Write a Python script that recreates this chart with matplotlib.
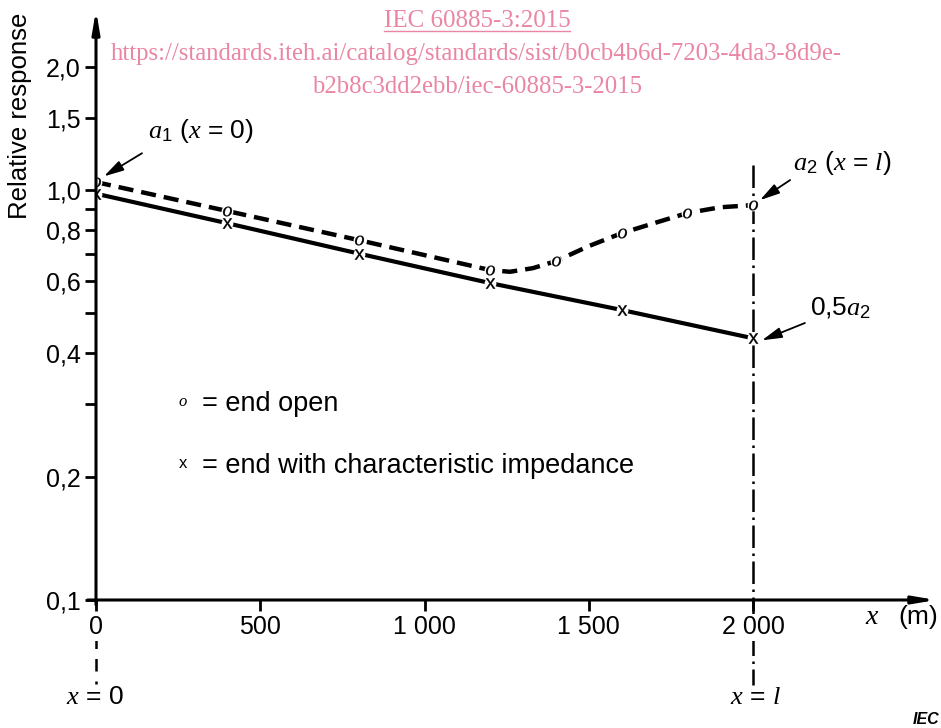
import numpy as np
import matplotlib
matplotlib.use('Agg')
import matplotlib.pyplot as plt
from matplotlib.ticker import FixedLocator, FixedFormatter, NullFormatter

plt.rcParams['font.family'] = ['Liberation Sans', 'DejaVu Sans']
plt.rcParams['mathtext.fontset'] = 'custom'
plt.rcParams['mathtext.it'] = 'Liberation Serif:italic'
plt.rcParams['mathtext.rm'] = 'Liberation Sans'
plt.rcParams['mathtext.sf'] = 'Liberation Sans'

# distance along the cable (m) and response, end with characteristic impedance
dist = [0, 400, 800, 1200, 1600, 2000]
resp_matched = [0.98, 0.83, 0.70, 0.593, 0.51, 0.435]

# end open: marked points
dist_open = [0, 400, 800, 1200, 1400, 1600, 1800, 2000]
resp_open = [1.046, 0.889, 0.755, 0.638, 0.671, 0.785, 0.879, 0.919]

# end open: dashed curve
curve_dist = [0, 400, 800, 1200, 1260, 1330, 1400, 1500, 1600, 1700, 1800, 1900, 2000]
curve_resp = [1.046, 0.889, 0.755, 0.638, 0.632, 0.645, 0.671, 0.730, 0.785, 0.831, 0.879, 0.908, 0.919]

ytick_vals = [0.1, 0.2, 0.4, 0.6, 0.8, 1.0, 1.5, 2.0]
ytick_labels = ['0,1', '0,2', '0,4', '0,6', '0,8', '1,0', '1,5', '2,0']
yminor_vals = [0.3, 0.5, 0.7, 0.9]
xtick_vals = [0, 500, 1000, 1500, 2000]
xtick_labels = ['0', '500', '1 000', '1 500', '2 000']

W, H = 941, 728
fig = plt.figure(figsize=(W / 100, H / 100), dpi=100)
ax = fig.add_axes([96 / W, 128 / H, 840 / W, 590 / H])
ax.set_yscale('log')
ax.set_xlim(0, 2557)
ax.set_ylim(0.1, 2.75)
for s in ax.spines.values():
    s.set_visible(False)


def px(x, y):
    # pixel position (top-left origin) -> figure fraction
    return x / W, 1 - y / H


# axes drawn as arrows
arr = dict(arrowstyle='-|>,head_length=1.3,head_width=0.22', lw=2.2, color='k',
           shrinkA=0, shrinkB=0)
ax.annotate('', xy=(1.0, 0), xytext=(-0.01, 0), xycoords='axes fraction',
            arrowprops=arr, annotation_clip=False, zorder=3)
ax.annotate('', xy=(0, 1.0), xytext=(0, -0.008), xycoords='axes fraction',
            arrowprops=arr, annotation_clip=False, zorder=3)

ax.yaxis.set_major_locator(FixedLocator(ytick_vals))
ax.yaxis.set_major_formatter(FixedFormatter(ytick_labels))
ax.yaxis.set_minor_locator(FixedLocator(yminor_vals))
ax.yaxis.set_minor_formatter(NullFormatter())
ax.xaxis.set_major_locator(FixedLocator(xtick_vals))
ax.xaxis.set_major_formatter(FixedFormatter(xtick_labels))
ax.tick_params(which='both', direction='out', length=8, width=2, labelsize=18)
ax.tick_params(axis='y', pad=3)
ax.tick_params(axis='x', pad=3)
for lab in ax.get_xticklabels():
    lab.set_bbox(dict(fc='white', ec='none', pad=1))

# reference lines at x = 0 and x = l
ax.plot([2000, 2000], [1.15, 0.062], color='k', lw=1.8, clip_on=False, zorder=1.5,
        dashes=(9, 2.2, 1, 2.2))
ax.plot([0, 0], [0.0817, 0.0624], color='k', lw=1.8, clip_on=False, zorder=1.5,
        dashes=(5, 4))

# curves
ax.plot(dist, resp_matched, color='k', lw=3, solid_capstyle='butt', zorder=2)
ax.plot(curve_dist, curve_resp, color='k', lw=3.2, dashes=(3.4, 1.8), zorder=2)
# small white gaps where the markers sit, then the glyph markers
ax.plot(dist, resp_matched, ls='none', marker='o', ms=8.5, mfc='white', mec='none', zorder=2.1)
ax.plot(dist_open, resp_open, ls='none', marker='o', ms=8.5, mfc='white', mec='none', zorder=2.1)
ax.plot(dist, resp_matched, ls='none', marker=r'$\mathrm{x}$', ms=7.5, mew=0.2, color='k', zorder=4)
ax.plot(dist_open, resp_open, ls='none', marker=r'$o$', ms=7, mew=0.2, color='k', zorder=4)

# annotations
ap = dict(arrowstyle='-|>,head_length=1.2,head_width=0.32', lw=1.3, color='k',
          shrinkA=0, shrinkB=0)
ax.annotate(r'$a_1$ ($x$ = 0)', xy=(24, 1.08), xytext=(158, 1.39), fontsize=19,
            va='center', ha='left')
ax.annotate('', xy=(24, 1.08), xytext=(140, 1.23), arrowprops=ap)
ax.annotate(r'$a_2$ ($x$ = $l$)', xy=(2021, 0.945), xytext=(2122, 1.164), fontsize=19,
            va='center', ha='left')
ax.annotate('', xy=(2021, 0.945), xytext=(2113, 1.058), arrowprops=ap)
ax.annotate(r'0,5$a_2$', xy=(2027, 0.43), xytext=(2174, 0.515), fontsize=19,
            va='center', ha='left')
ax.annotate('', xy=(2027, 0.43), xytext=(2158, 0.474), arrowprops=ap)

# legend
fig.text(*px(183, 401), r'$o$', fontsize=12, ha='center', va='center')
fig.text(*px(202, 404), '= end open', fontsize=19.5, ha='left', va='center')
fig.text(*px(183, 464), r'$\mathrm{x}$', fontsize=12, ha='center', va='center')
fig.text(*px(202, 466), '= end with characteristic impedance', fontsize=19.5,
         ha='left', va='center')

# axis labels
fig.text(*px(20, 116), 'Relative response', fontsize=18.5, rotation=90,
         ha='center', va='center')
fig.text(*px(872, 617), r'$x$', fontsize=20, ha='center', va='center')
fig.text(*px(918, 617), '(m)', fontsize=19, ha='center', va='center')
fig.text(*px(95, 697), r'$x$ = 0', fontsize=19, ha='center', va='center')
fig.text(*px(755, 697), r'$x$ = $l$', fontsize=19, ha='center', va='center')
fig.text(*px(926, 719), 'IEC', fontsize=11.5, style='italic', weight='bold',
         ha='center', va='center')

# watermark
pink = '#ea86a4'
t1 = fig.text(*px(477, 21), 'IEC 60885-3:2015', fontsize=18, color=pink,
              family='Liberation Serif', ha='center', va='center')
fig.text(*px(476, 54), 'https://standards.iteh.ai/catalog/standards/sist/b0cb4b6d-7203-4da3-8d9e-',
         fontsize=17.8, color=pink, family='Liberation Serif', ha='center', va='center')
fig.text(*px(477, 87), 'b2b8c3dd2ebb/iec-60885-3-2015', fontsize=17.8, color=pink,
         family='Liberation Serif', ha='center', va='center')
fig.canvas.draw()
bb = t1.get_window_extent()
fig.add_artist(plt.Line2D([bb.x0 / W, bb.x1 / W], [(bb.y0 + 1) / H, (bb.y0 + 1) / H],
                          color=pink, lw=1.0))

fig.savefig('out.png', dpi=100)
